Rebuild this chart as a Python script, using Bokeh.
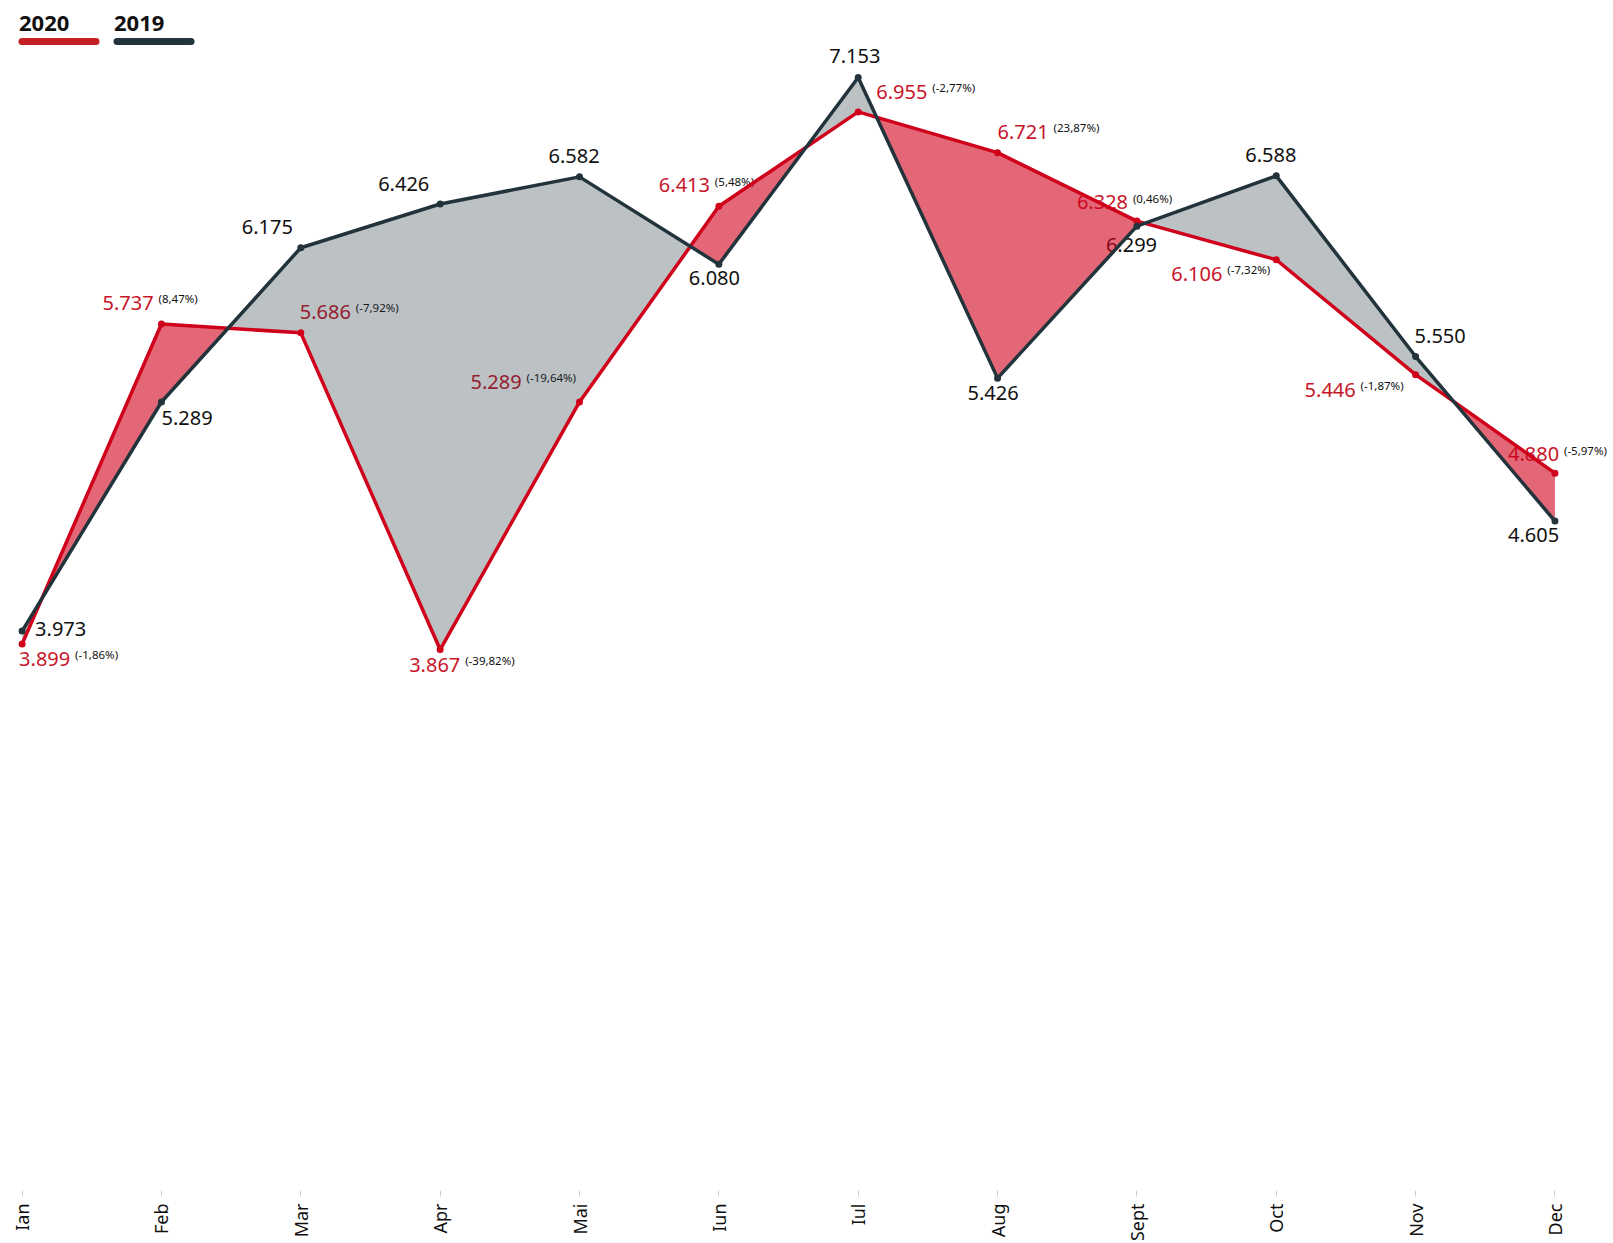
import math
from bokeh.plotting import figure
from bokeh.models import ColumnDataSource, Range1d, FixedTicker
from bokeh.core.properties import value
from bokeh.embed import file_html
from bokeh.resources import INLINE

# ---------------- data ----------------
months = ["Ian", "Feb", "Mar", "Apr", "Mai", "Iun", "Iul", "Aug", "Sept", "Oct", "Nov", "Dec"]
values_2019 = [3.973, 5.289, 6.175, 6.426, 6.582, 6.080, 7.153, 5.426, 6.299, 6.588, 5.550, 4.605]
values_2020 = [3.899, 5.737, 5.686, 3.867, 5.289, 6.413, 6.955, 6.721, 6.328, 6.106, 5.446, 4.880]
labels_2019 = ["3.973", "5.289", "6.175", "6.426", "6.582", "6.080", "7.153", "5.426", "6.299", "6.588", "5.550", "4.605"]
labels_2020 = ["3.899", "5.737", "5.686", "3.867", "5.289", "6.413", "6.955", "6.721", "6.328", "6.106", "5.446", "4.880"]
pct_2020 = ["(-1,86%)", "(8,47%)", "(-7,92%)", "(-39,82%)", "(-19,64%)", "(5,48%)",
            "(-2,77%)", "(23,87%)", "(0,46%)", "(-7,32%)", "(-1,87%)", "(-5,97%)"]
series_names = ["2020", "2019"]

# ---------------- styles ----------------
RED = "#d0021b"
DARK = "#22333b"
RED_TXT = "#c8152a"
FONT = "Noto Sans"

# label offsets (pixels; left edge / vertical centre relative to the point)
dx_2019 = [13, 0, -59, -62, -31, -30, -29, -30, -31, -31, -1, -47]
dy_2019 = [-2, 16, -21, -20, -21, 14, -21, 15, 19, -21, -21, 14]
dx_2020 = [-3, -59, -1, -31, -109, -60, 18, 0, -60, -105, -111, -47]
dy_2020 = [15, -21, -21, 15, -20, -21, -20, -21, -19, 14, 15, -19]
PCT_DX = 56
PCT_DY = -4

UNIT = 139.35
FW, FH = 1605, 1182
X0 = -0.0976
X1 = X0 + FW / UNIT
Y0, Y1 = 0.760, 7.549

p = figure(frame_width=FW, frame_height=FH, output_backend="svg", toolbar_location=None,
           x_range=Range1d(X0, X1), y_range=Range1d(Y0, Y1), min_border=0,
           min_border_left=8, min_border_top=8,
           background_fill_color="white", border_fill_color="white", outline_line_color=None)
p.grid.visible = False
p.yaxis.visible = False

xs = list(range(len(months)))

def px_x(px):
    return X0 + px * (X1 - X0) / FW

def px_y(py):
    return Y1 - py * (Y1 - Y0) / FH

# ---------------- labels (under the fills) ----------------
src19 = ColumnDataSource(dict(x=xs, y=values_2019, t=labels_2019, dx=dx_2019, dy=dy_2019))
p.text(x="x", y="y", text="t", x_offset="dx", y_offset="dy", source=src19,
       text_font=value(FONT), text_font_size="20px", text_color="#111111",
       text_align="left", text_baseline="middle")

src20 = ColumnDataSource(dict(x=xs, y=values_2020, t=labels_2020, p=pct_2020,
                              dx=dx_2020, dy=dy_2020,
                              pdx=[d + PCT_DX for d in dx_2020],
                              pdy=[d + PCT_DY for d in dy_2020]))
p.text(x="x", y="y", text="t", x_offset="dx", y_offset="dy", source=src20,
       text_font=value(FONT), text_font_size="20px", text_color=RED_TXT,
       text_align="left", text_baseline="middle")
p.text(x="x", y="y", text="p", x_offset="pdx", y_offset="pdy", source=src20,
       text_font=value(FONT), text_font_size="11.5px", text_color="#111111",
       text_align="left", text_baseline="middle")

# ---------------- difference fills (one polygon per run between crossings) ----------------
pts = []  # (x, a, b)
for i in range(len(xs)):
    a, b = values_2020[i], values_2019[i]
    pts.append((xs[i], a, b))
    if i < len(xs) - 1:
        a1, b1 = values_2020[i + 1], values_2019[i + 1]
        d0, d1 = a - b, a1 - b1
        if d0 * d1 < 0:
            t = d0 / (d0 - d1)
            xc = xs[i] + t
            yc = a + t * (a1 - a)
            pts.append((xc, yc, yc))

runs = []
cur = [pts[0]]
cur_sign = 0
for pt in pts[1:]:
    d = pt[1] - pt[2]
    cur.append(pt)
    if abs(d) < 1e-12:
        runs.append((cur_sign, cur))
        cur = [pt]
        cur_sign = 0
    elif cur_sign == 0:
        cur_sign = 1 if d > 0 else -1
    if d != 0 and abs(d) >= 1e-12:
        pass
if len(cur) > 1:
    runs.append((cur_sign, cur))

red_xs, red_ys, grey_xs, grey_ys = [], [], [], []
for sgn, run in runs:
    if sgn == 0:
        d = sum(r[1] - r[2] for r in run)
        sgn = 1 if d > 0 else -1
    px_ = [r[0] for r in run] + [r[0] for r in reversed(run)]
    py_ = [r[1] for r in run] + [r[2] for r in reversed(run)]
    if sgn > 0:
        red_xs.append(px_); red_ys.append(py_)
    else:
        grey_xs.append(px_); grey_ys.append(py_)

p.patches(red_xs, red_ys, fill_color=RED, fill_alpha=0.6, line_color=None)
p.patches(grey_xs, grey_ys, fill_color=DARK, fill_alpha=0.3, line_color=None)

# ---------------- lines ----------------
p.line(xs, values_2020, line_color=RED, line_width=3.5, line_join="round")
p.line(xs, values_2019, line_color=DARK, line_width=3.5, line_join="round")
p.scatter(xs, values_2020, size=7, fill_color=RED, line_color=None)
p.scatter(xs, values_2019, size=7, fill_color=DARK, line_color=None)

# ---------------- legend ----------------
leg_colors = ["#c51f26", DARK]
leg_left = [10.5, 105.5]
for name, col, lx in zip(series_names, leg_colors, leg_left):
    p.text(x=[px_x(lx)], y=[px_y(14.6)], text=[name], text_font=value(FONT),
           text_font_size="22px", text_font_style="bold", text_color="#111111",
           text_align="left", text_baseline="middle")
    p.segment(x0=[px_x(lx + 3)], y0=[px_y(33)], x1=[px_x(lx + 77)], y1=[px_y(33)],
              line_color=col, line_width=7, line_cap="round")

# ---------------- axis ----------------
ax = p.xaxis[0]
ax.ticker = FixedTicker(ticks=xs)
ax.major_label_overrides = {i: m for i, m in enumerate(months)}
ax.major_label_orientation = math.pi / 2
ax.axis_line_color = None
ax.major_tick_line_color = "#cccccc"
ax.major_tick_in = 0
ax.major_tick_out = 6
ax.minor_tick_line_color = None
ax.major_label_text_font = FONT
ax.major_label_text_font_size = "18px"
ax.major_label_text_color = "#111111"
ax.major_label_standoff = 7

open("out.html", "w").write(file_html(p, INLINE))
